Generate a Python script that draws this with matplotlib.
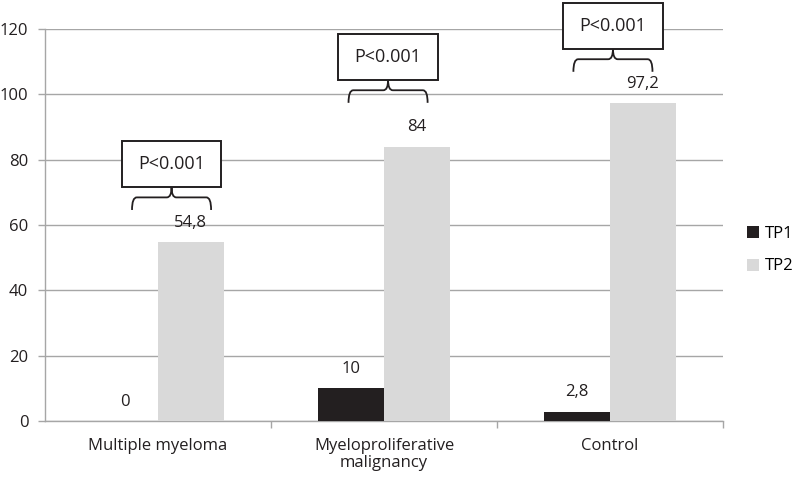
import matplotlib.pyplot as plt
import numpy as np
from matplotlib.path import Path
from matplotlib.patches import PathPatch, Rectangle

plt.rcParams['font.family'] = ['Open Sans', 'DejaVu Sans']

categories = ['Multiple myeloma', 'Myeloproliferative\nmalignancy', 'Control']
tp1 = [0, 10, 2.8]
tp2 = [54.8, 84, 97.2]
series_names = ['TP1', 'TP2']
p_labels = ['P<0.001', 'P<0.001', 'P<0.001']
yticks = [0, 20, 40, 60, 80, 100, 120]


def fmt(v):
    return ('%g' % v).replace('.', ',')


def brace(ax, xc, half, y_tip, h):
    # horizontal curly brace, tip pointing up
    y_mid = y_tip - h * 0.45
    y_end = y_tip - h
    r = half * 0.12
    verts = [
        (xc - half, y_end), (xc - half, y_mid), (xc - half + r, y_mid),
        (xc - r, y_mid), (xc, y_mid), (xc, y_tip),
        (xc, y_mid), (xc + r, y_mid),
        (xc + half - r, y_mid), (xc + half, y_mid), (xc + half, y_end),
    ]
    codes = [Path.MOVETO, Path.CURVE3, Path.CURVE3,
             Path.LINETO, Path.CURVE3, Path.CURVE3,
             Path.CURVE3, Path.CURVE3,
             Path.LINETO, Path.CURVE3, Path.CURVE3]
    ax.add_patch(PathPatch(Path(verts, codes), fill=False, lw=1.3,
                           edgecolor='#231f20', clip_on=False, zorder=4))


fig = plt.figure(figsize=(8, 4.79), dpi=100)
ax = fig.add_axes([45 / 800, 58 / 479, 678 / 800, 392 / 479])

x = np.arange(len(categories))
w = 0.29
b1 = ax.bar(x - w / 2, tp1, w, color='#231f20', label=series_names[0], zorder=3)
b2 = ax.bar(x + w / 2, tp2, w, color='#d9d9d9', label=series_names[1], zorder=3)

for rects, vals in ((b1, tp1), (b2, tp2)):
    for r, v in zip(rects, vals):
        ax.annotate(fmt(v), (r.get_x() + r.get_width() / 2, v),
                    xytext=(0, 14), textcoords='offset points',
                    ha='center', va='center', fontsize=12, color='#231f20')

ax.set_xlim(-0.5, 2.5)
ax.set_ylim(0, 120)
ax.set_yticks(yticks)
ax.set_xticks(x)
ax.set_xticklabels(categories, fontsize=12, color='#231f20', linespacing=1.15)
ax.set_xticks([0.5, 1.5, 2.5], minor=True)
ax.tick_params(axis='x', which='major', length=0, pad=12)
ax.tick_params(axis='x', which='minor', length=5, color='#a6a6a6', width=1)
ax.tick_params(axis='y', length=5, color='#a6a6a6', width=1, pad=7,
               labelsize=12, labelcolor='#231f20')
ax.yaxis.grid(True, color='#a6a6a6', lw=1)
ax.set_axisbelow(True)
for s in ('top', 'right'):
    ax.spines[s].set_visible(False)
for s in ('left', 'bottom'):
    ax.spines[s].set_color('#a6a6a6')
    ax.spines[s].set_linewidth(1)

# significance boxes with braces
box_cx = [0.06, 1.018, 2.013]
box_y0 = [71.6, 104.4, 113.9]
box_hw, box_h, brace_hw, brace_h = 0.22, 14, 0.175, 7
for i, lab in enumerate(p_labels):
    cx, y0 = box_cx[i], box_y0[i]
    ax.add_patch(Rectangle((cx - box_hw, y0), 2 * box_hw, box_h, fill=True,
                           facecolor='white', edgecolor='#231f20', lw=1.4,
                           clip_on=False, zorder=5))
    ax.text(cx, y0 + box_h / 2, lab, ha='center', va='center', fontsize=13,
            color='#231f20', zorder=6, clip_on=False)
    brace(ax, cx, brace_hw, y0, brace_h)

ax.legend(loc='center left', bbox_to_anchor=(1.035, 0.436), frameon=False,
          handlelength=0.75, handleheight=0.75, handletextpad=0.35,
          borderpad=0, borderaxespad=0, labelspacing=1.0, fontsize=12)

fig.savefig('out.png', dpi=100)
